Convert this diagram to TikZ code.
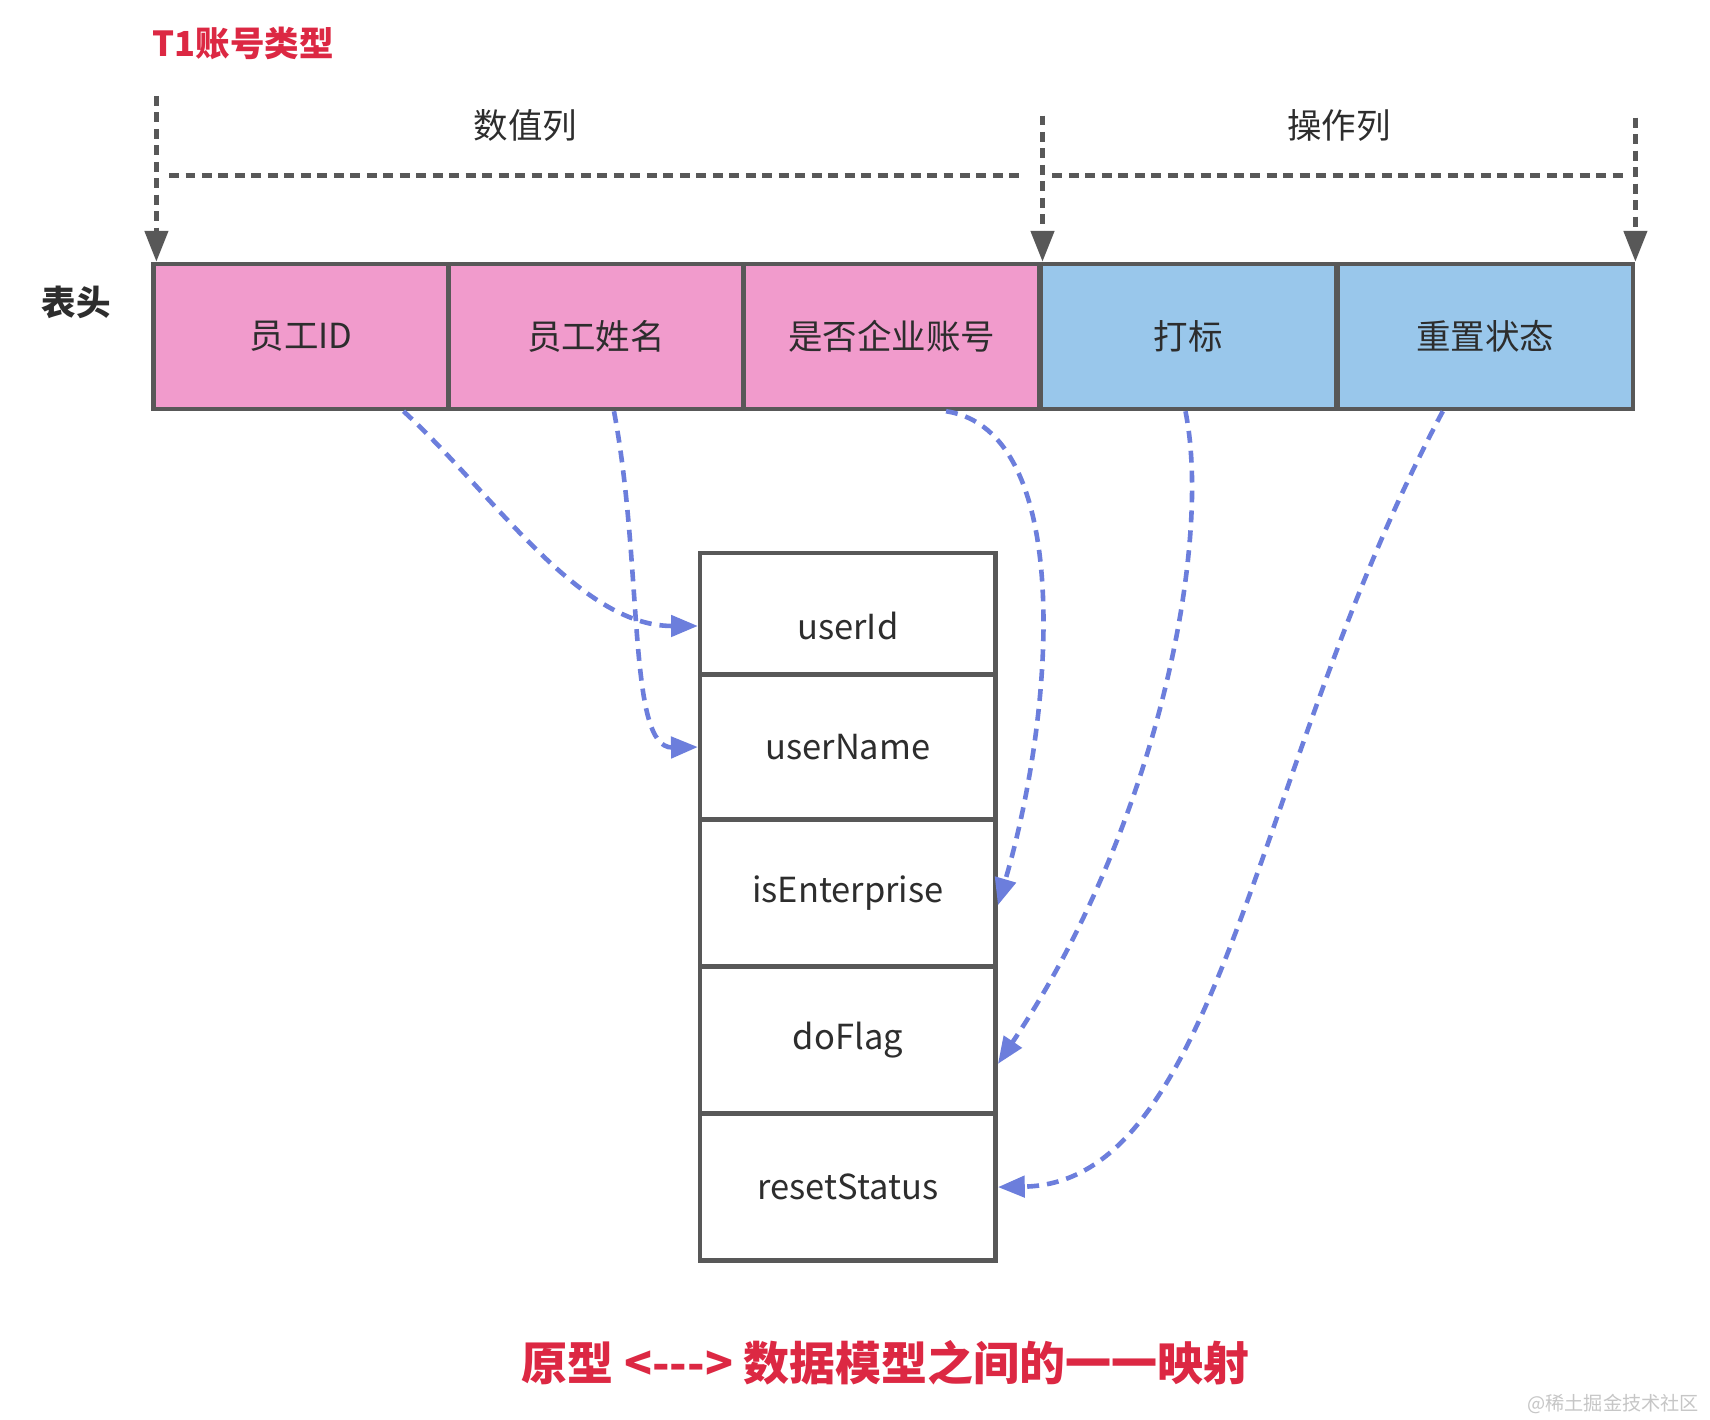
\documentclass[tikz,border=0pt]{standalone}
\usepackage{fontspec}
\setmainfont{Noto Sans CJK SC}
\usetikzlibrary{arrows.meta}
\definecolor{cellpink}{RGB}{241,155,204}
\definecolor{cellblue}{RGB}{153,199,235}
\definecolor{framegray}{RGB}{88,88,88}
\definecolor{textdark}{RGB}{45,45,45}
\definecolor{linkblue}{RGB}{108,126,220}
\definecolor{titlered}{RGB}{220,40,67}
\tikzset{
  cell/.style={draw=framegray, line width=2.4pt, minimum width=5.42cm, minimum height=2.66cm, inner sep=0pt, text=textdark, font=\fontsize{18pt}{22pt}\selectfont},
  field/.style={cell, fill=white, minimum height=#1},
  headtext/.style={text=textdark, font=\fontsize{18pt}{22pt}\selectfont},
  redtext/.style={text=titlered, font=\fontsize{#1}{#1}\selectfont\bfseries},
  guide/.style={draw=framegray, line width=2.2pt, dash pattern=on 5.2pt off 3.4pt},
  guidearrow/.style={guide, -{Triangle[length=16pt,width=12pt]}},
  maplink/.style={draw=linkblue, line width=2.4pt, dash pattern=on 6.2pt off 4.2pt, -{Triangle[length=14pt,width=11pt]}}
}
\begin{document}
\begin{tikzpicture}[x=0.02cm,y=-0.02cm]
\useasboundingbox[fill=white] (0,0) rectangle (1568,1302);

% header cells
\foreach \nm/\txt/\cx/\fc in {h1/员工ID/276/cellpink, h2/员工姓名/546.5/cellpink, h3/是否企业账号/817.5/cellpink, h4/打标/1089.5/cellblue, h5/重置状态/1362/cellblue}
  \node[cell, fill=\fc] (\nm) at (\cx,308.5) {\txt};

% model fields
\foreach \nm/\txt/\cy/\fh in {uid/{\raisebox{-0.22cm}[\height][\depth]{userId}}/563/2.24cm, uname/userName/685/2.66cm, ise/isEnterprise/819/2.68cm, flag/doFlag/953.5/2.7cm, reset/resetStatus/1088.5/2.7cm}
  \node[field=\fh] (\nm) at (777.5,\cy) {\txt};

% labels
\node[redtext=18pt, anchor=west] (title) at (134,40) {T1账号类型};
\node[headtext] (numcols) at (482,115) {数值列};
\node[headtext] (opcols) at (1228,115) {操作列};
\node[headtext, font=\fontsize{18pt}{22pt}\selectfont\bfseries] (rowhead) at (70,277) {表头};
\node[redtext=24pt] (caption) at (812,1250) {原型 {<}-{}-{}-{>} 数据模型之间的一一映射};
\node[anchor=east, text=gray!45, font=\fontsize{10pt}{12pt}\selectfont] (mark) at (1564,1287) {@稀土掘金技术社区};

% column guides
\coordinate (gl) at ([xshift=0.1cm]h1.north west);
\coordinate (gm) at ([xshift=0.08cm]h4.north west);
\coordinate (gr) at (h5.north east);
\draw[guidearrow] (gl) ++(0,-152) -- (gl);
\draw[guidearrow] (gm) ++(0,-134) -- (gm);
\draw[guidearrow] (gr) ++(0,-132) -- (gr);
\draw[guide] (155,161) -- (935,161);
\draw[guide] (965,161) -- (1493,161);

% mapping arrows
\draw[maplink] ([xshift=1.88cm]h1.south) .. controls (450,450) and (530,574) .. ([yshift=-0.22cm]uid.west);
\draw[maplink] ([xshift=0.33cm]h2.south) .. controls (590,520) and (575,686) .. (uname.west);
\draw[maplink] ([xshift=1cm]h3.south) .. controls (985,395) and (968,650) .. ([yshift=-0.22cm]ise.east);
\draw[maplink] ([xshift=-0.05cm]h4.south) .. controls (1112,500) and (1060,760) .. ([yshift=-0.44cm]flag.east);
\draw[maplink] ([xshift=-0.78cm]h5.south) .. controls (1150,700) and (1120,1085) .. (reset.east);
\end{tikzpicture}
\end{document}
